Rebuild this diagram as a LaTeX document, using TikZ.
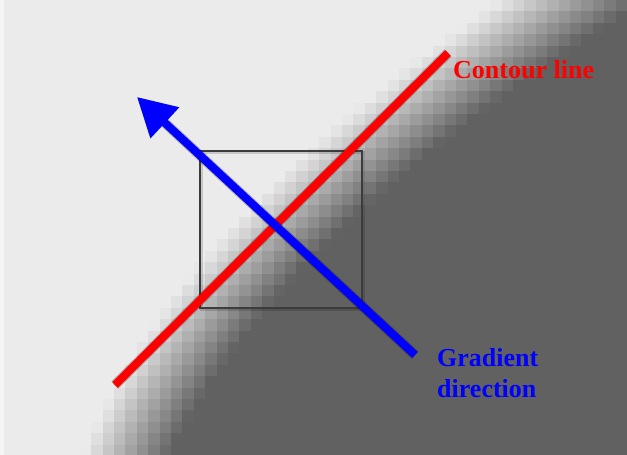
\documentclass[tikz,border=0pt]{standalone}
\usepackage{fontspec}
\setmainfont{Liberation Serif}
\usetikzlibrary{arrows.meta}
\definecolor{bgLight}{HTML}{EBEBEB}
\definecolor{bgDark}{HTML}{616161}
\definecolor{boxGray}{HTML}{3C3C3C}
\tikzset{
  contour/.style={red, line width=8pt},
  gradient/.style={blue, line width=8pt, -{Triangle[length=38pt,width=40pt]}},
  dropshadow/.style={black, opacity=0.25, line width=10pt, shift={(2.5pt,-2.5pt)}},
  lbl/.style={font=\bfseries\fontsize{26}{31}\selectfont, inner sep=0pt, align=left}
}

\begin{document}
\begin{tikzpicture}[x=1pt, y=-1pt]
    \useasboundingbox (0,0) rectangle (627,455);
    \clip (0,0) rectangle (627,455);

    % Blurred edge of the image, cell by cell
    \foreach \i in {0,...,54} {
        \foreach \j in {0,...,39} {
            \pgfmathsetmacro{\cx}{(\i+0.5)*11.4}
            \pgfmathsetmacro{\cy}{(\j+0.5)*0.114}
            \pgfmathsetmacro{\xc}{574.2-153.19*\cy+12.05*\cy*\cy}
            \pgfmathsetmacro{\sl}{-1.5319+0.241*\cy}
            \pgfmathtruncatemacro{\p}{max(0,min(100,50-((\cx-\xc)/sqrt(1+\sl*\sl))/0.8))}
            \fill[bgLight!\p!bgDark] (\i*11.4,\j*11.4) rectangle ++(11.6,11.6);
        }
    }
    \fill[white, opacity=0.5] (0,0) rectangle (4,455);

    % Window
    \draw[black, opacity=0.15, line width=3pt] (201,152) rectangle (363,309);
    \draw[boxGray, line width=1.6pt] (200,151) rectangle (362,308);

    % End points
    \coordinate (cLow) at (115,385);
    \coordinate (cHigh) at (448,53);
    \coordinate (gStart) at (415,355);
    \coordinate (gTip) at (137,97);

    % Contour line
    \draw[dropshadow] (cLow) -- (cHigh);
    \draw[contour] (cLow) -- (cHigh);

    % Gradient direction
    \draw[dropshadow, -{Triangle[length=38pt,width=40pt]}] (gStart) -- (gTip);
    \draw[gradient] (gStart) -- (gTip);

    % Labels
    \node[lbl, text=red, anchor=base west] (contourLbl) at (453,78) {Contour line};
    \node[lbl, text=blue, anchor=base west] (gradLbl) at (437,397) {Gradient\\direction};
\end{tikzpicture}
\end{document}
